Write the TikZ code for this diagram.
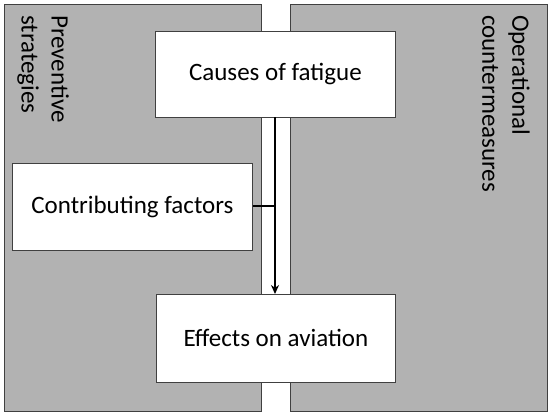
\documentclass[tikz,border=0pt]{standalone}
\usepackage{fontspec}
\setmainfont{Carlito}
\usetikzlibrary{arrows.meta}
\begin{document}
\begin{tikzpicture}[x=1pt,y=-1pt,
  panel/.style={draw=black!75,fill=gray!60,line width=0.8pt},
  wbox/.style={draw=black!75,fill=white,line width=0.8pt,inner sep=0pt,font=\fontsize{25}{30}\selectfont},
  side/.style={rotate=-90,anchor=north west,align=left,font=\fontsize{25}{30}\selectfont,inner sep=0pt},
  conn/.style={line width=2.4pt,black}]
\useasboundingbox (0,0) rectangle (551,416);
\fill[white] (0,0) rectangle (551,416);
\node[panel,minimum width=257pt,minimum height=407pt,anchor=north west,inner sep=0pt] (lp) at (4,4) {};
\node[panel,minimum width=257pt,minimum height=407pt,anchor=north west,inner sep=0pt] (rp) at (290,4) {};
\node[side] (pl) at (69,15) {Preventive\\strategies};
\node[side] (ol) at (530,15) {Operational\\countermeasures};
\node[wbox,minimum width=240pt,minimum height=86pt,anchor=north west] (cause) at (155,31) {Causes of fatigue};
\node[wbox,minimum width=240pt,minimum height=87pt,anchor=north west] (contrib) at (12,163) {Contributing factors};
\node[wbox,minimum width=239pt,minimum height=88pt,anchor=north west] (effect) at (156,294) {Effects on aviation};
\coordinate (top) at (275,117);
\coordinate (bot) at (275,294);
\coordinate (j) at (275,206);
\draw[conn,-{Stealth[length=9pt,width=8pt]}] (top) -- (bot);
\draw[conn] (contrib.east |- j) -- (j);
\end{tikzpicture}
\end{document}
